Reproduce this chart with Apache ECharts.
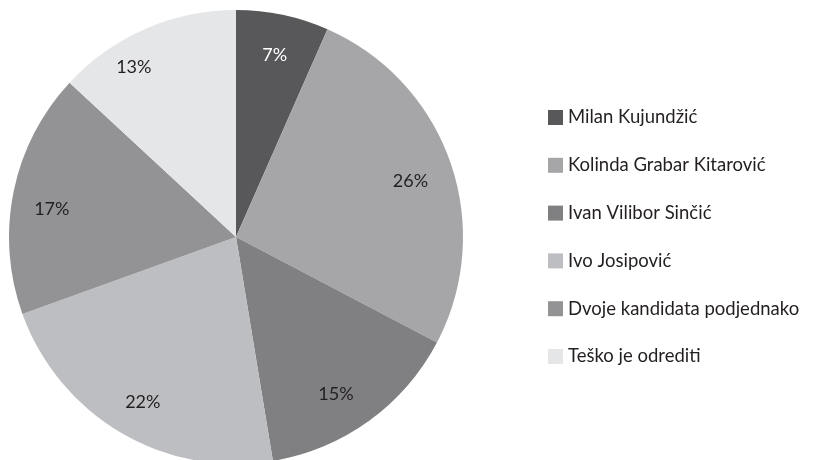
<!DOCTYPE html>
<html>
<head>
<meta charset="utf-8">
<script src="https://cdn.jsdelivr.net/npm/echarts@6/dist/echarts.min.js"></script>
<style>
html,body{margin:0;padding:0;background:#fff;}
#main{width:818px;height:460px;}
</style>
</head>
<body>
<div id="main"></div>
<script>
// podaci
var names = ['Milan Kujundžić', 'Kolinda Grabar Kitarović', 'Ivan Vilibor Sinčić', 'Ivo Josipović', 'Dvoje kandidata podjednako', 'Teško je odrediti'];
var values = [6.6, 26.1, 14.7, 22.1, 17.4, 13.1];
var colors = ['#58585a', '#a6a6a9', '#808083', '#bdbec1', '#939396', '#e5e6e8'];
var labelColors = ['#ffffff', '#231f20', '#231f20', '#231f20', '#231f20', '#231f20'];
// pomak natpisa (kao u Excelu)
var labelShift = [[0, 2], [-3, 6], [-10, 5], [2, 3], [0, 10], [-27, 2]];

var pieData = [];
var labelData = [];
for (var i = 0; i < names.length; i++) {
    pieData.push({ name: names[i], value: values[i], itemStyle: { color: colors[i] } });
    labelData.push({
        name: names[i],
        value: values[i],
        itemStyle: { color: 'rgba(0,0,0,0)' },
        label: { color: labelColors[i], offset: labelShift[i] }
    });
}

var myChart = echarts.init(document.getElementById('main'));
var fontFam = 'Lato, "Open Sans", sans-serif';

var option = {
    animation: false,
    color: colors,
    legend: {
        orient: 'vertical',
        left: 543,
        top: 103,
        itemWidth: 15,
        itemHeight: 15,
        itemGap: 28.8,
        icon: 'rect',
        data: names,
        textStyle: {
            fontFamily: fontFam,
            fontSize: 18.5,
            color: '#231f20',
            padding: [0, 0, 0, 0]
        }
    },
    series: [
        {
            type: 'pie',
            center: [236, 237],
            radius: 227,
            startAngle: 90,
            clockwise: true,
            label: { show: false },
            labelLine: { show: false },
            emphasis: { disabled: true },
            data: pieData
        },
        {
            // prozirni sloj samo za postotke
            type: 'pie',
            center: [236, 237],
            radius: [143, 227],
            startAngle: 90,
            clockwise: true,
            silent: true,
            label: {
                show: true,
                position: 'inside',
                formatter: function (p) { return Math.round(p.value) + '%'; },
                fontFamily: fontFam,
                fontSize: 18
            },
            labelLine: { show: false },
            emphasis: { disabled: true },
            data: labelData
        }
    ]
};
myChart.setOption(option, true);
</script>
</body>
</html>
